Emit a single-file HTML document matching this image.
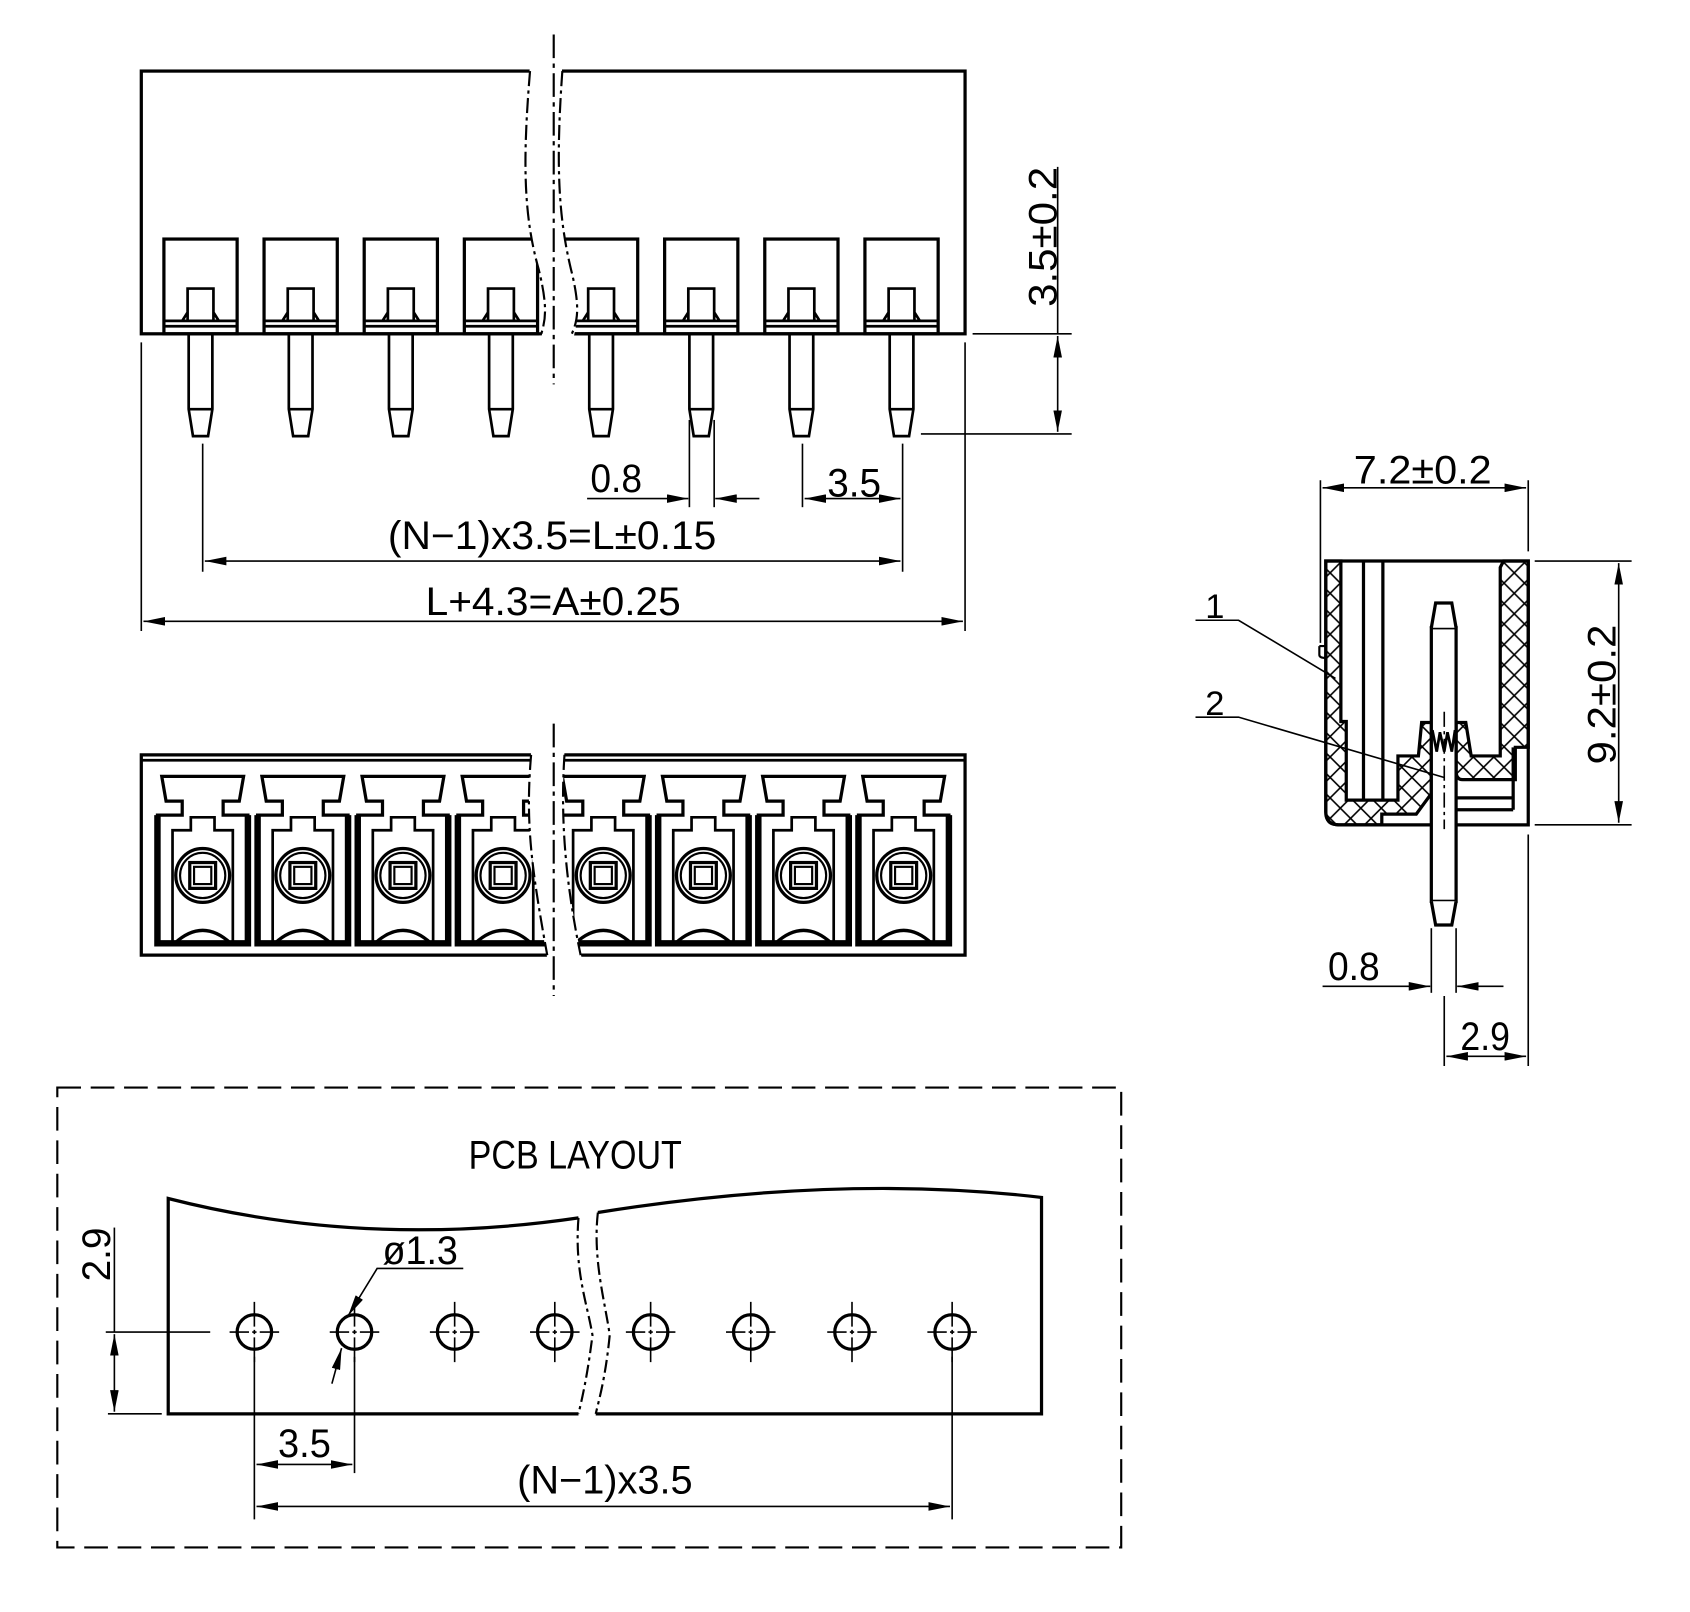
<!DOCTYPE html>
<html><head><meta charset="utf-8"><style>
html,body{margin:0;padding:0;background:#fff}
svg{display:block}
text{font-family:"Liberation Sans Narrow","Liberation Sans",sans-serif;fill:#000}
</style></head><body>
<svg width="1690" height="1612" viewBox="0 0 1569 1497" xmlns="http://www.w3.org/2000/svg">
<defs>
<marker id="ar" viewBox="0 0 20 8" refX="20" refY="4" markerWidth="20" markerHeight="8" markerUnits="userSpaceOnUse" orient="auto-start-reverse"><path d="M0,0 L20,4 L0,8 Z" fill="#000"/></marker>
<pattern id="hx" width="19" height="19" patternUnits="userSpaceOnUse"><path d="M0,0 L19,19 M19,0 L0,19" stroke="#000" stroke-width="1.5"/></pattern>
<g id="tp">
<rect x="-34" y="222" width="68" height="88" fill="none" stroke="#000" stroke-width="3"/>
<path d="M-12,298 L-12,268 L12,268 L12,298 M-12,290 L-17,298 M12,290 L17,298" fill="none" stroke="#000" stroke-width="2.5"/>
<path d="M-34,298 H34 M-34,303 H34" stroke="#000" stroke-width="2.5"/>
<path d="M-11,310 V380 L-7,405 H7 L11,380 V310 M-11,380 H11" fill="none" stroke="#000" stroke-width="2.5"/>
</g>
<g id="fc">
<path d="M-38,721 H38 L34,744 H19 V757 H42 V876 H-42 V757 H-19 V744 H-34 Z" fill="none" stroke="#000" stroke-width="3"/>
<path d="M-42,757 V876 H42 V757" fill="none" stroke="#000" stroke-width="6"/>
<path d="M-28,876 V771 H-11 V759 H11 V771 H28 V876" fill="none" stroke="#000" stroke-width="2.5"/>
<circle cx="0" cy="813" r="25" fill="none" stroke="#000" stroke-width="3"/>
<circle cx="0" cy="813" r="21" fill="none" stroke="#000" stroke-width="2"/>
<rect x="-12" y="801" width="24" height="24" fill="none" stroke="#000" stroke-width="3"/>
<rect x="-8" y="805" width="16" height="16" fill="none" stroke="#000" stroke-width="2"/>
<path d="M-26,876 Q0,852 26,876" fill="none" stroke="#000" stroke-width="3"/>
</g>
<g id="hole">
<circle cx="0" cy="0" r="16" fill="none" stroke="#000" stroke-width="3"/>
<path d="M-23,0 H-5 M-2,0 H2 M5,0 H23 M0,-28 V-5 M0,-2 V2 M0,5 V28" stroke="#000" stroke-width="1.5"/>
</g>
</defs>

<!-- TOP VIEW -->
<rect x="131" y="66" width="765" height="244" fill="none" stroke="#000" stroke-width="3"/>
<use href="#tp" x="186"/><use href="#tp" x="279"/><use href="#tp" x="372"/><use href="#tp" x="465"/>
<use href="#tp" x="558"/><use href="#tp" x="651"/><use href="#tp" x="744"/><use href="#tp" x="837"/>
<path d="M492,60 C485,150 486,200 500,250 C510,290 505,300 502,316 L532,316 C535,300 540,290 530,250 C518,200 516,150 522,60 Z" fill="#fff"/>
<path d="M492,66 C485,150 486,200 500,250 C510,290 505,300 502,312" fill="none" stroke="#000" stroke-width="2" stroke-dasharray="14,4,3,4"/>
<path d="M522,66 C516,150 518,200 530,250 C540,290 535,300 530,312" fill="none" stroke="#000" stroke-width="2" stroke-dasharray="14,4,3,4"/>
<line x1="514" y1="32" x2="514" y2="357" stroke="#000" stroke-width="2" stroke-dasharray="22,5,4,5"/>
<g stroke="#000" stroke-width="1.5" fill="none">
<line x1="131" y1="318" x2="131" y2="586"/><line x1="896" y1="318" x2="896" y2="586"/>
<line x1="133" y1="577" x2="894" y2="577" marker-start="url(#ar)" marker-end="url(#ar)"/>
<line x1="188" y1="412" x2="188" y2="531"/><line x1="838" y1="412" x2="838" y2="531"/>
<line x1="190" y1="521" x2="836" y2="521" marker-start="url(#ar)" marker-end="url(#ar)"/>
<line x1="640" y1="390" x2="640" y2="471"/><line x1="663" y1="390" x2="663" y2="471"/>
<line x1="545" y1="463" x2="639" y2="463" marker-end="url(#ar)"/>
<line x1="705" y1="463" x2="664" y2="463" marker-end="url(#ar)"/>
<line x1="745" y1="412" x2="745" y2="471"/>
<line x1="747" y1="463" x2="836" y2="463" marker-start="url(#ar)" marker-end="url(#ar)"/>
<line x1="903" y1="310" x2="995" y2="310"/><line x1="855" y1="403" x2="995" y2="403"/>
<line x1="982" y1="155" x2="982" y2="310"/>
<line x1="982" y1="312" x2="982" y2="401" marker-start="url(#ar)" marker-end="url(#ar)"/>
</g>
<text x="548" y="457" font-size="37" textLength="48" lengthAdjust="spacingAndGlyphs">0.8</text>
<text x="768" y="461" font-size="37" textLength="50" lengthAdjust="spacingAndGlyphs">3.5</text>
<text x="360" y="510" font-size="37" textLength="305" lengthAdjust="spacingAndGlyphs">(N−1)x3.5=L±0.15</text>
<text x="395" y="571" font-size="37" textLength="237" lengthAdjust="spacingAndGlyphs">L+4.3=A±0.25</text>
<text transform="translate(981,285) rotate(-90)" font-size="37" textLength="130" lengthAdjust="spacingAndGlyphs">3.5±0.2</text>

<!-- FRONT VIEW -->
<path d="M131,701 H896 V887 H131 Z" fill="none" stroke="#000" stroke-width="3"/>
<line x1="131" y1="706" x2="896" y2="706" stroke="#000" stroke-width="2.5"/>
<use href="#fc" x="188"/><use href="#fc" x="281"/><use href="#fc" x="374"/><use href="#fc" x="467"/>
<use href="#fc" x="560"/><use href="#fc" x="653"/><use href="#fc" x="746"/><use href="#fc" x="839"/>
<path d="M493,698 C488,760 492,800 508,890 L540,890 C525,820 520,760 524,698 Z" fill="#fff"/>
<path d="M493,701 C488,760 492,800 508,887" fill="none" stroke="#000" stroke-width="2" stroke-dasharray="14,4,3,4"/>
<path d="M524,701 C520,760 525,820 539,887" fill="none" stroke="#000" stroke-width="2" stroke-dasharray="14,4,3,4"/>
<line x1="514" y1="672" x2="514" y2="925" stroke="#000" stroke-width="2" stroke-dasharray="22,5,4,5"/>

<!-- SIDE VIEW -->
<path d="M1231,521 L1245,521 L1245,670 L1250,670 L1250,743 L1298,743 L1298,702 L1317,702 L1320,671 L1329,671 L1329,737 L1315,756 L1283,756 L1283,766 L1243,766 Q1231,766 1231,754 Z" fill="url(#hx)" stroke="#000" stroke-width="3"/>
<path d="M1393,527 L1396,521 L1419,521 L1419,694 L1407,694 L1407,724 L1358,724 Q1352,724 1352,716 L1352,671 L1361,671 L1366,702 L1393,702 Z" fill="url(#hx)" stroke="#000" stroke-width="3"/>
<path d="M1231,521 H1419 V766 H1243 Q1231,766 1231,754 Z" fill="none" stroke="#000" stroke-width="3"/>
<path d="M1225,600 H1231 M1225,600 V608 Q1225,611 1231,611" fill="none" stroke="#000" stroke-width="2"/>
<path d="M1266,521 V743 M1284,521 V743" stroke="#000" stroke-width="3"/>
<path d="M1352,741 H1405 M1352,752 H1405 M1405,694 V752" fill="none" stroke="#000" stroke-width="3"/>
<rect x="1329" y="583" width="23" height="254" fill="#fff" stroke="#000" stroke-width="3"/>
<path d="M1329,583 L1333,560 H1348 L1352,583 M1329,837 L1333,859 H1348 L1352,837" fill="#fff" stroke="#000" stroke-width="3"/>
<path d="M1330,678 L1334,698 L1337,680 L1341,698 L1344,680 L1348,698 L1351,678" fill="none" stroke="#000" stroke-width="2.5"/>
<line x1="1341" y1="661" x2="1341" y2="770" stroke="#000" stroke-width="1.5" stroke-dasharray="14,4,3,4"/>
<g stroke="#000" stroke-width="1.5" fill="none">
<path d="M1110,576 H1150 L1240,630"/>
<path d="M1110,666 H1150 L1341,722"/>
<line x1="1226" y1="597" x2="1226" y2="446"/><line x1="1419" y1="512" x2="1419" y2="446"/>
<line x1="1228" y1="453" x2="1417" y2="453" marker-start="url(#ar)" marker-end="url(#ar)"/>
<line x1="1425" y1="521" x2="1515" y2="521"/><line x1="1425" y1="766" x2="1515" y2="766"/>
<line x1="1503" y1="523" x2="1503" y2="764" marker-start="url(#ar)" marker-end="url(#ar)"/>
<line x1="1329" y1="862" x2="1329" y2="922"/><line x1="1352" y1="862" x2="1352" y2="922"/>
<line x1="1228" y1="916" x2="1328" y2="916" marker-end="url(#ar)"/>
<line x1="1396" y1="916" x2="1353" y2="916" marker-end="url(#ar)"/>
<line x1="1341" y1="925" x2="1341" y2="990"/><line x1="1419" y1="775" x2="1419" y2="990"/>
<line x1="1343" y1="981" x2="1417" y2="981" marker-start="url(#ar)" marker-end="url(#ar)"/>
</g>
<text x="1128" y="574" font-size="32" text-anchor="middle">1</text>
<text x="1128" y="664" font-size="32" text-anchor="middle">2</text>
<text x="1257" y="449" font-size="37" textLength="128" lengthAdjust="spacingAndGlyphs">7.2±0.2</text>
<text transform="translate(1500,710) rotate(-90)" font-size="37" textLength="130" lengthAdjust="spacingAndGlyphs">9.2±0.2</text>
<text x="1233" y="910" font-size="37" textLength="48" lengthAdjust="spacingAndGlyphs">0.8</text>
<text x="1356" y="975" font-size="37" textLength="46" lengthAdjust="spacingAndGlyphs">2.9</text>

<!-- PCB LAYOUT -->
<rect x="53" y="1010" width="988" height="427" fill="none" stroke="#000" stroke-width="2" stroke-dasharray="22,9"/>
<text x="435" y="1085" font-size="37" textLength="198" lengthAdjust="spacingAndGlyphs">PCB LAYOUT</text>
<path d="M537,1131 Q340,1160 156,1113 V1313 H537" fill="none" stroke="#000" stroke-width="3"/>
<path d="M555,1126 Q780,1090 967,1112 V1313 H553" fill="none" stroke="#000" stroke-width="3"/>
<path d="M537,1131 C533,1180 545,1210 550,1240 C545,1280 540,1300 537,1313" fill="none" stroke="#000" stroke-width="2" stroke-dasharray="12,4,3,4"/>
<path d="M555,1126 C550,1170 562,1210 566,1240 C562,1280 556,1300 553,1313" fill="none" stroke="#000" stroke-width="2" stroke-dasharray="12,4,3,4"/>
<use href="#hole" x="236" y="1237"/><use href="#hole" x="329" y="1237"/><use href="#hole" x="422" y="1237"/><use href="#hole" x="515" y="1237"/>
<use href="#hole" x="604" y="1237"/><use href="#hole" x="697" y="1237"/><use href="#hole" x="791" y="1237"/><use href="#hole" x="884" y="1237"/>
<g stroke="#000" stroke-width="1.5" fill="none">
<line x1="98" y1="1237" x2="195" y2="1237"/>
<line x1="100" y1="1313" x2="150" y2="1313"/>
<line x1="106" y1="1140" x2="106" y2="1237"/>
<line x1="106" y1="1239" x2="106" y2="1311" marker-start="url(#ar)" marker-end="url(#ar)"/>
<path d="M430,1178 H350 L323,1222" marker-end="url(#ar)"/>
<line x1="308" y1="1285" x2="317" y2="1252" marker-end="url(#ar)"/>
<line x1="236" y1="1260" x2="236" y2="1411"/><line x1="329" y1="1260" x2="329" y2="1368"/>
<line x1="884" y1="1260" x2="884" y2="1411"/>
<line x1="238" y1="1360" x2="327" y2="1360" marker-start="url(#ar)" marker-end="url(#ar)"/>
<line x1="238" y1="1399" x2="882" y2="1399" marker-start="url(#ar)" marker-end="url(#ar)"/>
</g>
<text transform="translate(102,1190) rotate(-90)" font-size="37" textLength="50" lengthAdjust="spacingAndGlyphs">2.9</text>
<text x="355" y="1174" font-size="37" textLength="70" lengthAdjust="spacingAndGlyphs">ø1.3</text>
<text x="258" y="1353" font-size="37" textLength="49" lengthAdjust="spacingAndGlyphs">3.5</text>
<text x="480" y="1387" font-size="37" textLength="163" lengthAdjust="spacingAndGlyphs">(N−1)x3.5</text>
</svg>
</body></html>
